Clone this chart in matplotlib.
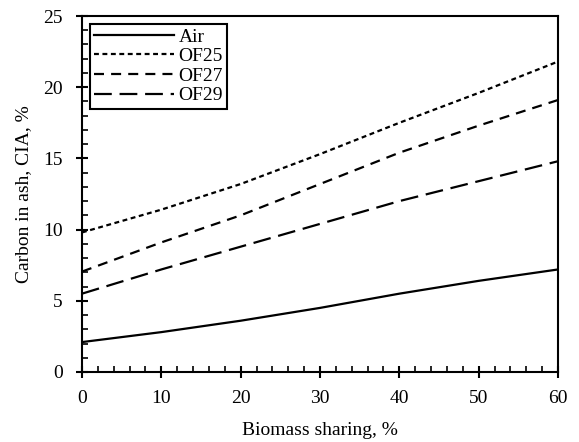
import numpy as np
import matplotlib
matplotlib.use('Agg')
import matplotlib.pyplot as plt
from matplotlib.ticker import MultipleLocator

# -----------------------------
# Data
# -----------------------------
biomass = [0, 10, 20, 30, 40, 50, 60]
air = [2.1, 2.8, 3.6, 4.5, 5.5, 6.4, 7.2]
of25 = [9.8, 11.4, 13.2, 15.3, 17.5, 19.6, 21.8]
of27 = [7.05, 9.1, 11.0, 13.2, 15.4, 17.3, 19.1]
of29 = [5.5, 7.2, 8.8, 10.4, 12.0, 13.4, 14.8]

plt.rcParams['font.family'] = ['Liberation Serif', 'DejaVu Serif']
plt.rcParams['font.size'] = 14

fig = plt.figure(figsize=(5.79, 4.42), dpi=100)
ax = fig.add_axes([0.1416, 0.1584, 0.8221, 0.8054])

lw = 1.6
ax.plot(biomass, air, color='black', lw=lw, label='Air')
ax.plot(biomass, of25, color='black', lw=lw, dashes=(2.2, 1.6), label='OF25')
ax.plot(biomass, of27, color='black', lw=lw, dashes=(4.5, 3.2), label='OF27')
ax.plot(biomass, of29, color='black', lw=lw, dashes=(8, 3.5), label='OF29')

ax.set_xlim(0, 60)
ax.set_ylim(0, 25)
ax.xaxis.set_major_locator(MultipleLocator(10))
ax.xaxis.set_minor_locator(MultipleLocator(2))
ax.yaxis.set_major_locator(MultipleLocator(5))
ax.yaxis.set_minor_locator(MultipleLocator(1))
ax.tick_params(which='major', direction='inout', length=8, width=1.5,
               top=False, right=False, labelsize=14)
ax.tick_params(axis='x', which='major', pad=9)
ax.tick_params(axis='y', which='major', pad=10)
ax.tick_params(which='minor', direction='in', length=4, width=1.2,
               top=False, right=False)
for s in ax.spines.values():
    s.set_linewidth(1.5)

ax.set_xlabel('Biomass sharing, %', fontsize=14, labelpad=11)
ax.set_ylabel('Carbon in ash, CIA, %', fontsize=14, labelpad=8)

leg = ax.legend(loc='upper left', handlelength=4.1, handletextpad=0.25,
                borderpad=0.22, labelspacing=0.1, fancybox=False,
                framealpha=1, edgecolor='black', fontsize=14,
                borderaxespad=0.4)
leg.get_frame().set_linewidth(1.5)

fig.savefig('out.png', dpi=100)
